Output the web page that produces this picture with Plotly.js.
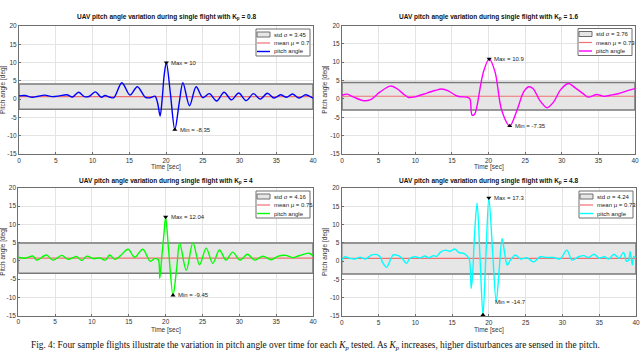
<!DOCTYPE html>
<html><head><meta charset="utf-8">
<script src="https://cdn.plot.ly/plotly-3.0.1.min.js"></script>
<style>html,body{margin:0;padding:0;background:#fff;} #chart{width:640px;height:352px;}</style>
</head><body><div id="chart"></div>
<script>
// ---- data ----
const kpValues = [0.8, 1.6, 4, 4.8];
const stdValues = [3.45, 3.76, 4.16, 4.24];
const meanValues = [0.7, 0.73, 0.75, 0.73];
const maxValues = [10, 10.9, 12.04, 17.3];
const maxTimes = [20.05, 20.1, 20.0, 20.0];
const minValues = [-8.35, -7.35, -9.45, -14.7];
const minTimes = [21.2, 22.9, 21.0, 19.2];

const time1 = [0,0.8,1.8,2.6,3.5,4.5,5.5,6.5,7.3,8.1,8.9,9.6,10.4,11.2,11.7,12.3,12.9,14.0,15.1,16.1,17.2,17.9,18.5,18.85,19.2,19.5,19.75,20.05,20.6,21.2,21.8,22.3,23.2,24.1,25.0,25.9,26.9,27.9,28.9,29.9,30.9,31.9,32.8,33.8,34.7,35.6,36.4,37.2,38.1,39.0,39.5,40];
const pitch1 = [0.9,1.0,0.5,0.8,1.1,0.7,0.9,1.2,0.6,1.9,0.7,0.8,2.0,0.5,1.0,0.6,0.4,4.5,1.1,3.4,0.5,0.4,0.8,-1.0,-4.6,0.5,6.5,10,1.5,-8.35,-1.0,4.5,-1.8,3.4,0.4,1.5,-0.5,1.9,-0.2,1.7,-0.4,1.5,0.0,1.6,0.3,1.2,0.5,1.4,0.3,1.2,0.8,0.3];

const time2 = [0,0.7,1.6,3.0,3.9,5.2,6.6,7.5,8.6,9.1,9.8,11.6,12.7,13.6,14.5,15.5,16.1,17.0,17.45,17.75,18.1,18.4,19.3,20.1,20.9,21.8,22.9,23.9,24.8,25.5,26.1,27.0,28.0,28.9,29.8,30.9,31.8,33.0,33.6,34.8,35.7,36.6,37.7,38.9,40];
const pitch2 = [1.0,1.3,0.5,-0.5,-0.2,1.9,3.5,2.8,1.0,0.4,0.5,1.6,2.3,2.7,2.2,1.0,0.6,0.5,0.1,-4.4,-4.2,-2.2,7.3,10.9,7.3,-3.1,-7.35,-3.0,1.9,3.3,2.8,-0.4,-2.4,-0.8,2.4,4.2,3.1,1.3,0.5,1.2,0.7,1.0,1.4,2.2,2.8];

const time3 = [0,0.9,2.0,2.5,3.8,4.7,5.9,6.8,7.9,8.6,9.3,10.2,11.1,11.8,12.4,13.1,13.8,14.9,15.8,16.9,17.9,18.5,19.0,19.2,19.45,19.75,20.0,20.4,21.0,21.5,21.9,22.8,23.7,24.6,25.5,26.4,27.3,28.2,29.1,30.1,31.1,32.1,33.2,34.3,35.3,36.3,37.2,38.1,39.5,40];
const pitch3 = [1.0,0.7,1.3,0.2,1.6,0.2,1.5,0.4,1.2,0.1,1.3,0.6,0.8,0.2,1.6,0.4,1.3,3.2,1.0,3.2,-0.1,0.6,0.3,-4.8,0.5,7.0,12.04,3.0,-9.45,-2.0,5.0,-2.6,5.0,-1.1,3.5,-0.7,3.0,0.2,2.4,0.2,1.8,0.2,1.3,0.3,1.3,1.5,0.9,1.4,2.1,1.3];

const time4 = [0,0.45,1.1,1.8,2.5,3.2,4.1,4.8,5.2,5.6,6.1,6.6,7.0,7.7,8.2,8.8,9.3,10.0,10.7,11.3,11.8,12.5,12.9,13.4,14.1,14.7,15.4,15.9,16.6,17.0,17.35,17.6,17.8,18.05,18.4,18.8,19.2,19.6,20.0,20.5,21.0,21.4,21.8,22.2,22.5,22.9,23.6,24.3,25.2,26.1,27.0,27.9,28.8,29.7,30.6,31.3,32.2,32.9,33.6,34.3,35.0,35.7,36.3,37.0,37.7,38.3,38.7,39.0,39.2,39.5,39.7,40];
const pitch4 = [0.3,1.2,0.8,0.6,1.1,0.6,1.7,1.8,1.2,-0.5,-1.7,0.3,1.7,1.5,0.8,-0.6,0.8,1.2,0.9,1.4,0.9,1.5,1.3,2.4,3.0,2.7,3.3,2.4,2.1,1.5,0.5,-7.5,-3.5,7.0,15.9,1.0,-14.7,1.5,17.3,3.0,-11.1,-2.5,6.2,1.5,-1.1,0.2,1.7,0.6,0.9,-0.2,1.2,1.0,1.0,0.6,3.0,0.3,1.2,1.5,1.0,1.9,0.8,1.2,0.6,1.9,0.8,2.4,0.0,0.2,2.6,-1.0,1.2,0.9];

const xTicks = [0,5,10,15,20,25,30,35,40];
const yTicks = [-15,-10,-5,0,5,10,15,20];
const times = [time1, time2, time3, time4];
const pitches = [pitch1, pitch2, pitch3, pitch4];

// ---- style / layout ----
const W = 640, H = 352;
const colors = ['#0000ff', '#ff00ff', '#00ff00', '#00ffff'];
const boxes = [
  {x0: 19, x1: 313, y0: 26, y1: 154},
  {x0: 342, x1: 635, y0: 25.5, y1: 154},
  {x0: 18.3, x1: 313, y0: 188, y1: 315.5},
  {x0: 341.7, x1: 636, y0: 188, y1: 316}
];
const titleY = [17, 17, 181, 181];
const xLabelY = [167, 167, 330, 330];
const yLabelX = [3, 325, 3, 325];
const minLabelShift = [[3, 0], [3, 0], [3, 0], [10, 13]];
const FONT = 'Liberation Sans, Arial, sans-serif';
const px = x => x / W, py = y => 1 - y / H;

const traces = [];
const layout = {
  width: W, height: H, autosize: false,
  margin: {l: 0, r: 0, t: 0, b: 0},
  paper_bgcolor: '#fff', plot_bgcolor: '#fff',
  showlegend: false,
  font: {family: FONT, size: 6, color: '#333'},
  annotations: [], shapes: []
};

for (let i = 0; i < 4; i++) {
  const xid = i === 0 ? 'x' : 'x' + (i + 1);
  const yid = i === 0 ? 'y' : 'y' + (i + 1);
  const b = boxes[i];
  const axCommon = {
    showline: true, mirror: true, linecolor: '#6e6e6e', linewidth: 1,
    showgrid: true, gridcolor: '#e4e4e4', gridwidth: 1, zeroline: false,
    ticks: 'inside', ticklen: 2, tickcolor: '#6e6e6e',
    tickfont: {family: FONT, size: 6.5, color: '#333'}
  };
  layout['xaxis' + (i === 0 ? '' : i + 1)] = Object.assign({}, axCommon, {
    domain: [px(b.x0), px(b.x1)], range: [0, 40], anchor: yid,
    tickmode: 'array', tickvals: xTicks, ticktext: xTicks.map(String)
  });
  layout['yaxis' + (i === 0 ? '' : i + 1)] = Object.assign({}, axCommon, {
    domain: [py(b.y1), py(b.y0)], range: [-15, 20], anchor: xid,
    tickmode: 'array', tickvals: yTicks, ticktext: yTicks.map(String)
  });

  const t = times[i], v = pitches[i];
  const t0 = t[0], t1 = t[t.length - 1];
  const lo = meanValues[i] - stdValues[i], hi = meanValues[i] + stdValues[i];
  traces.push({x: [t0, t1, t1, t0, t0], y: [lo, lo, hi, hi, lo], xaxis: xid, yaxis: yid,
    mode: 'lines', fill: 'toself', fillcolor: '#e6e6e6', line: {color: '#7a7a7a', width: 1.5}, hoverinfo: 'skip'});
  traces.push({x: [t0, t1], y: [meanValues[i], meanValues[i]], xaxis: xid, yaxis: yid,
    mode: 'lines', line: {color: '#f07070', width: 1.2}, hoverinfo: 'skip'});
  traces.push({x: t, y: v, xaxis: xid, yaxis: yid, mode: 'lines',
    line: {color: colors[i], width: 1.4, shape: 'spline', smoothing: 0.9}});
  traces.push({x: [maxTimes[i]], y: [maxValues[i]], xaxis: xid, yaxis: yid, mode: 'markers', cliponaxis: false,
    marker: {symbol: 'triangle-down', size: 4.5, color: '#000'}});
  traces.push({x: [minTimes[i]], y: [minValues[i]], xaxis: xid, yaxis: yid, mode: 'markers', cliponaxis: false,
    marker: {symbol: 'triangle-up', size: 4.5, color: '#000'}});

  layout.annotations.push({xref: xid, yref: yid, x: maxTimes[i], y: maxValues[i], xanchor: 'left', yanchor: 'middle',
    xshift: 3, showarrow: false, text: 'Max = ' + maxValues[i], font: {size: 6, color: '#222'}});
  layout.annotations.push({xref: xid, yref: yid, x: minTimes[i], y: minValues[i], xanchor: 'left', yanchor: 'middle',
    xshift: minLabelShift[i][0], yshift: minLabelShift[i][1], showarrow: false, text: 'Min = ' + minValues[i], font: {size: 6, color: '#222'}});

  // title and axis labels
  layout.annotations.push({xref: 'paper', yref: 'paper', x: px((b.x0 + b.x1) / 2), y: py(titleY[i]),
    xanchor: 'center', yanchor: 'middle', showarrow: false,
    text: '<b>UAV pitch angle variation during single flight with K<sub>p</sub> = ' + kpValues[i] + '</b>',
    font: {size: 6.5, color: '#111'}});
  layout.annotations.push({xref: 'paper', yref: 'paper', x: px((b.x0 + b.x1) / 2), y: py(xLabelY[i]),
    xanchor: 'center', yanchor: 'middle', showarrow: false, text: 'Time [sec]', font: {size: 6.5, color: '#333'}});
  layout.annotations.push({xref: 'paper', yref: 'paper', x: px(yLabelX[i]), y: py((b.y0 + b.y1) / 2),
    xanchor: 'center', yanchor: 'middle', showarrow: false, textangle: -90, text: 'Pitch angle [deg]', font: {size: 6.5, color: '#333'}});

  // legend
  const R = b.x1, T = b.y0;
  layout.shapes.push({type: 'rect', xref: 'paper', yref: 'paper', x0: px(R - 57), x1: px(R - 3), y0: py(T + 30), y1: py(T + 3),
    fillcolor: '#fff', line: {color: '#6e6e6e', width: 1}});
  layout.shapes.push({type: 'rect', xref: 'paper', yref: 'paper', x0: px(R - 56), x1: px(R - 43), y0: py(T + 11), y1: py(T + 6),
    fillcolor: '#e6e6e6', line: {color: '#6e6e6e', width: 1}});
  layout.shapes.push({type: 'line', xref: 'paper', yref: 'paper', x0: px(R - 56), x1: px(R - 43), y0: py(T + 17), y1: py(T + 17),
    line: {color: '#f07070', width: 1.2}});
  layout.shapes.push({type: 'line', xref: 'paper', yref: 'paper', x0: px(R - 56), x1: px(R - 43), y0: py(T + 25.5), y1: py(T + 25.5),
    line: {color: colors[i], width: 1.4}});
  const legTexts = ['std σ = ' + stdValues[i], 'mean μ = ' + meanValues[i], 'pitch angle'];
  const legY = [T + 8.5, T + 17, T + 25.5];
  for (let k = 0; k < 3; k++) {
    layout.annotations.push({xref: 'paper', yref: 'paper', x: px(R - 41), y: py(legY[k]), xanchor: 'left', yanchor: 'middle',
      showarrow: false, text: legTexts[k], font: {size: 6, color: '#222'}});
  }
}

layout.annotations.push({xref: 'paper', yref: 'paper', x: px(315), y: py(345), xanchor: 'center', yanchor: 'middle', showarrow: false,
  text: 'Fig. 4: Four sample flights illustrate the variation in pitch angle over time for each <i>K<sub>p</sub></i> tested. As <i>K<sub>p</sub></i> increases, higher disturbances are sensed in the pitch.',
  font: {family: 'Liberation Serif, Times New Roman, serif', size: 9.3, color: '#111'}});

Plotly.newPlot('chart', traces, layout, {staticPlot: true, displayModeBar: false});
</script>
</body></html>
